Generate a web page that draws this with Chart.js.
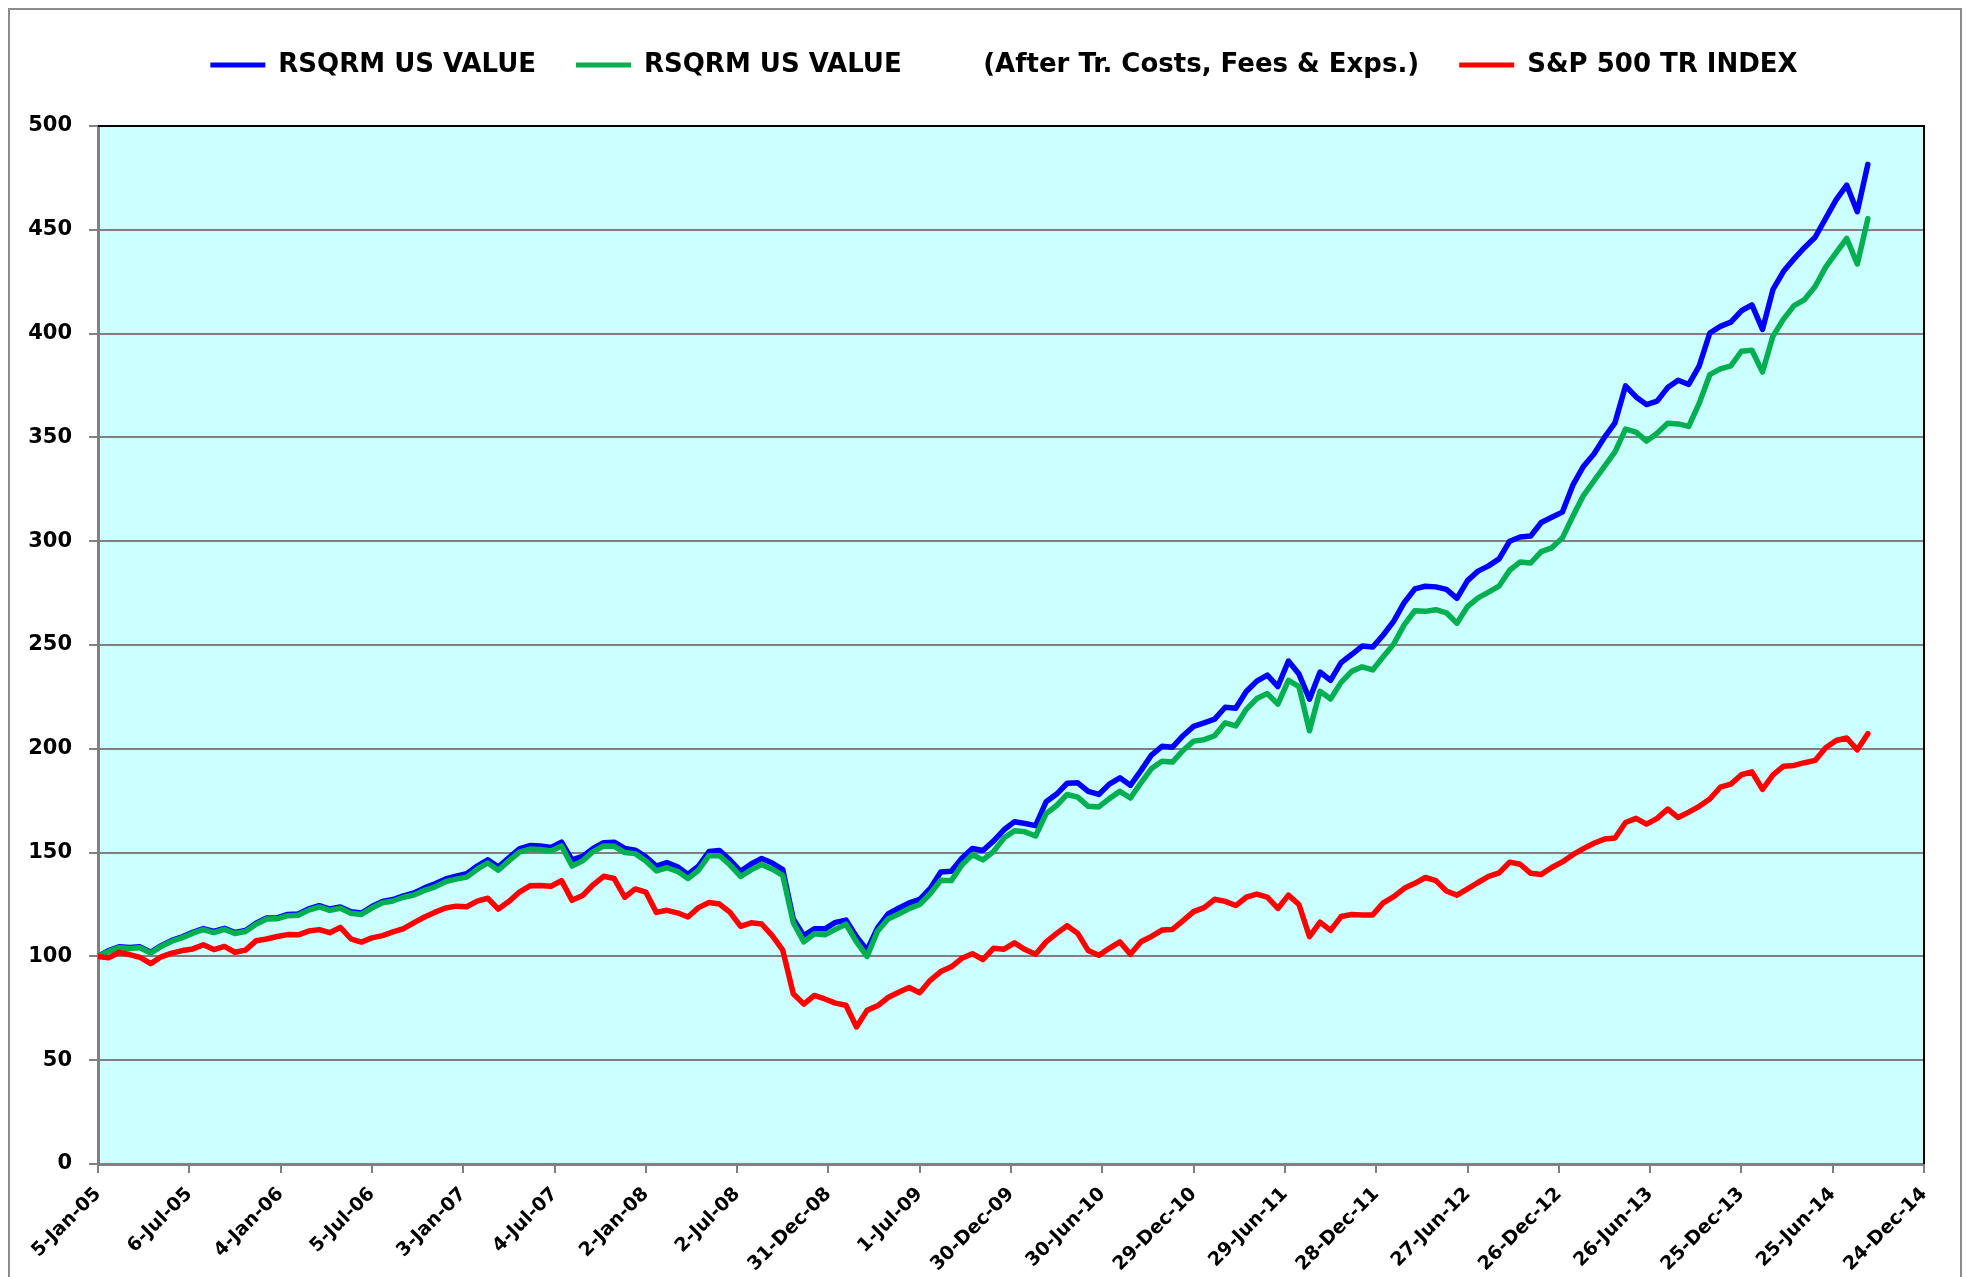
<!DOCTYPE html>
<html>
<head>
<meta charset="utf-8">
<script src="https://cdn.jsdelivr.net/npm/chart.js@4.4.1/dist/chart.umd.min.js"></script>
<style>
  html, body { margin: 0; padding: 0; background: #ffffff; }
  #wrap { width: 1966px; height: 1277px; position: relative; }
</style>
</head>
<body>
<div id="wrap"><canvas id="c" width="1966" height="1277"></canvas></div>
<script>
// ---- Data (weekly index from 5-Jan-05, sampled every 3 weeks) ----
const SAMPLE_STEP_WEEKS = 3;
const WEEKS_PER_TICK = 26;

const xTickLabels = ['5-Jan-05','6-Jul-05','4-Jan-06','5-Jul-06','3-Jan-07','4-Jul-07','2-Jan-08','2-Jul-08','31-Dec-08','1-Jul-09','30-Dec-09','30-Jun-10','29-Dec-10','29-Jun-11','28-Dec-11','27-Jun-12','26-Dec-12','26-Jun-13','25-Dec-13','25-Jun-14','24-Dec-14'];

const seriesNames = ['RSQRM US VALUE', 'RSQRM US VALUE\u00A0\u00A0\u00A0\u00A0\u00A0\u00A0\u00A0\u00A0\u00A0(After Tr. Costs, Fees & Exps.)', 'S&P 500 TR INDEX'];

const rsqrmGross = [
100, 102.8, 104.6, 104.3, 104.6, 102, 105.2, 107.7, 109.4, 111.6,
113.4, 112, 113.5, 111.5, 112.5, 116, 118.5, 118.6, 120.2, 120.4,
122.9, 124.4, 122.8, 123.8, 121.5, 120.9, 124, 126.5, 127.4, 129.2,
130.6, 133, 135, 137.3, 138.6, 139.8, 143.5, 146.5, 143, 147.5,
151.8, 153.4, 153.2, 152.5, 155, 146.5, 148.2, 152, 154.8, 155,
152, 151.2, 148, 143.5, 145.2, 143.2, 139.5, 143.5, 150.5, 151,
146.4, 141, 144.5, 147.2, 145, 141.8, 118, 110, 113.3, 113.3,
116.4, 117.5, 109.5, 103, 113.7, 120.5, 123.2, 125.8, 127.5, 132.7,
140.7, 141, 147.3, 152, 151, 155.5, 161, 164.9, 164, 163,
174.5, 178.2, 183.4, 183.6, 179.5, 178, 183, 186, 182.4, 189.5,
197, 201.2, 200.8, 206.3, 210.8, 212.5, 214.3, 220, 219.5, 227.6,
232.6, 235.5, 230, 242.3, 236, 223.9, 237, 233, 241.5, 245.4,
249.5, 249, 254.8, 261.5, 270.5, 277, 278.3, 278, 276.8, 272.5,
281, 285.6, 288.1, 291.5, 300, 302, 302.5, 309, 311.5, 314,
327, 336, 342, 350, 357, 374.8, 369.5, 365.8, 367.5, 374,
377.5, 375.5, 384.5, 400.3, 403.5, 405.5, 411, 413.8, 402, 421.3,
430, 436, 441.5, 446.4, 455.5, 464.5, 471.5, 458.7, 481.5
];

const rsqrmNet = [
100, 102.4, 104.2, 103.8, 104.2, 101.6, 104.8, 107.3, 109, 111.2,
112.9, 111.5, 113, 111, 112, 115.5, 118, 118.1, 119.6, 119.8,
122.3, 123.8, 122.2, 123.2, 120.8, 120.2, 123.3, 125.8, 126.7, 128.5,
129.6, 131.8, 133.5, 136, 137.2, 138.2, 142, 145, 141.5, 146,
150.2, 151.7, 151.5, 150.8, 153.2, 143.5, 146, 150.5, 153.2, 153,
150, 149.5, 146, 141.2, 142.7, 141, 137.5, 141.5, 148.5, 148.5,
144, 138.5, 141.7, 144.3, 142, 139, 116.2, 107, 110.9, 110.4,
113, 115.5, 107, 100, 112.1, 118, 120.4, 123, 125, 130.2,
136.7, 136.5, 144, 149, 146.5, 150.5, 157, 160.5, 160, 158,
168.8, 172.7, 178, 176.7, 172.3, 172, 176, 179.5, 176.3, 183.6,
190.5, 194, 193.6, 199.2, 203.7, 204.4, 206.3, 212.5, 211, 219,
224.2, 226.6, 221.5, 233, 230, 208.7, 227.7, 224, 232, 237.3,
239.5, 238, 244.3, 250.5, 259.8, 266.5, 266.2, 267, 265.5, 260.5,
268.5, 272.7, 275.5, 278.4, 286, 290, 289.5, 295, 296.8, 301.5,
312, 322, 329, 336, 343, 354, 352.5, 348.2, 352, 356.8,
356.5, 355.3, 366.5, 380.2, 383, 384.5, 391.5, 392, 381.5, 398.8,
407, 413.5, 416.4, 422.7, 432, 439, 445.8, 433.5, 455.3
];

const sp500 = [
100, 99.3, 101.9, 100.9, 99.5, 96.5, 99.8, 101.6, 102.8, 103.6,
105.6, 103.3, 104.8, 102, 103, 107.5, 108.4, 109.6, 110.5, 110.4,
112.2, 112.9, 111.4, 114, 108.5, 106.9, 108.9, 110, 111.8, 113.4,
116.3, 119, 121.3, 123.3, 124.2, 123.9, 126.6, 128, 122.8, 126.4,
131, 134, 134.2, 133.8, 136.5, 127, 129.3, 134.5, 138.6, 137.5,
128.5, 132.5, 131, 121.2, 122.2, 121, 119, 123.5, 126, 125.2,
121.2, 114.5, 116.2, 115.6, 110, 103, 82, 77, 81.2, 79.5,
77.5, 76.5, 66, 74, 76.2, 80.2, 82.7, 85, 82.5, 88.5,
92.7, 95, 99.1, 101.3, 98.5, 103.9, 103.5, 106.5, 103.3, 101,
107, 111.1, 114.8, 111.1, 102.8, 100.5, 103.9, 107, 101, 107.1,
109.6, 112.7, 113, 117.2, 121.6, 123.5, 127.5, 126.5, 124.5, 128.5,
130, 128.5, 123.1, 129.5, 125, 109.5, 116.5, 112.5, 119.2, 120.2,
120, 120, 125.8, 128.8, 132.8, 135.2, 138, 136.5, 131.5, 129.5,
132.5, 135.6, 138.5, 140.2, 145.4, 144.4, 140, 139.5, 142.8, 145.5,
149, 151.9, 154.5, 156.5, 157, 164.5, 166.5, 163.7, 166.5, 171,
166.9, 169.5, 172.3, 175.8, 181.5, 183, 187.5, 188.9, 180.5, 187.4,
191.6, 192, 193.3, 194.4, 200.5, 204, 205.2, 199.5, 207.3
];

const seriesColors = ['#0000FF', '#00B050', '#FF0000'];

// ---- Build datasets ----
function toPoints(values) {
  return values.map((v, i) => ({ x: i * SAMPLE_STEP_WEEKS, y: v }));
}
const allSeries = [rsqrmGross, rsqrmNet, sp500];
const datasets = allSeries.map((vals, i) => ({
  label: seriesNames[i],
  data: toPoints(vals),
  borderColor: seriesColors[i],
  backgroundColor: seriesColors[i],
  borderWidth: 5.5,
  pointRadius: 0,
  tension: 0,
  order: 3 - i,
  borderJoinStyle: 'round',
  borderCapStyle: 'round'
}));

const FONT = "'DejaVu Sans', Verdana, sans-serif";
const LEGEND_TOP = 12;
const LEGEND_BLOCK_HEIGHT = 126 - LEGEND_TOP;
const LEGEND_SHIFT = 84;

const decor = {
  id: 'decor',
  beforeLayout(chart) {
    const lg = chart.legend;
    if (lg && !lg._fixedHeight) {
      const origFit = lg.fit;
      lg.fit = function () { origFit.call(this); this.height = LEGEND_BLOCK_HEIGHT; };
      lg._fixedHeight = true;
    }
  },
  afterLayout(chart) {
    chart.legend.left += LEGEND_SHIFT;
  },
  beforeDraw(chart) {
    const { ctx, chartArea: a } = chart;
    ctx.save();
    ctx.fillStyle = '#ffffff';
    ctx.fillRect(0, 0, chart.width, chart.height);
    ctx.fillStyle = '#CCFFFF';
    ctx.fillRect(a.left, a.top, a.right - a.left, a.bottom - a.top);
    ctx.strokeStyle = '#8c8c8c';
    ctx.lineWidth = 2;
    ctx.strokeRect(9, 9, 1952, 1300);
    ctx.restore();
  },
  beforeDatasetsDraw(chart) {
    const { ctx, chartArea: a } = chart;
    ctx.save();
    ctx.strokeStyle = '#000000';
    ctx.lineWidth = 2;
    ctx.beginPath();
    ctx.moveTo(a.left, a.top);
    ctx.lineTo(a.right, a.top);
    ctx.lineTo(a.right, a.bottom);
    ctx.stroke();
    ctx.restore();
  }
};

new Chart(document.getElementById('c'), {
  type: 'line',
  data: { datasets },
  options: {
    responsive: false,
    animation: false,
    events: [],
    layout: { padding: { top: LEGEND_TOP, right: 42, bottom: 0, left: 0 } },
    plugins: {
      legend: {
        display: true,
        position: 'top',
        labels: {
          font: { family: FONT, size: 26, weight: 'bold' },
          color: '#000000',
          boxWidth: 55,
          boxHeight: 5,
          padding: 40,
          sort: (a, b) => a.datasetIndex - b.datasetIndex,
          generateLabels: (chart) => Chart.defaults.plugins.legend.labels.generateLabels(chart)
            .map(l => Object.assign(l, { lineWidth: 0, fillStyle: seriesColors[l.datasetIndex] }))
        }
      },
      tooltip: { enabled: false }
    },
    scales: {
      x: {
        type: 'linear',
        min: 0,
        max: WEEKS_PER_TICK * (xTickLabels.length - 1),
        afterFit: (s) => { s.height = 113; },
        grid: { drawOnChartArea: false, drawTicks: true, tickLength: 9, color: '#808080', lineWidth: 2 },
        border: { display: true, color: '#808080', width: 3 },
        ticks: {
          stepSize: WEEKS_PER_TICK,
          autoSkip: false,
          maxRotation: 45,
          minRotation: 45,
          padding: 10,
          color: '#000000',
          font: { family: FONT, size: 19, weight: 'bold' },
          callback: (v) => xTickLabels[Math.round(v / WEEKS_PER_TICK)]
        }
      },
      y: {
        min: 0,
        max: 500,
        afterFit: (s) => { s.width = 98; },
        grid: { color: '#808080', lineWidth: 2, tickLength: 9, drawTicks: true },
        border: { display: true, color: '#808080', width: 3 },
        ticks: {
          stepSize: 50,
          padding: 17,
          color: '#000000',
          font: { family: FONT, size: 21, weight: 'bold' }
        }
      }
    }
  },
  plugins: [decor]
});
</script>
</body>
</html>
